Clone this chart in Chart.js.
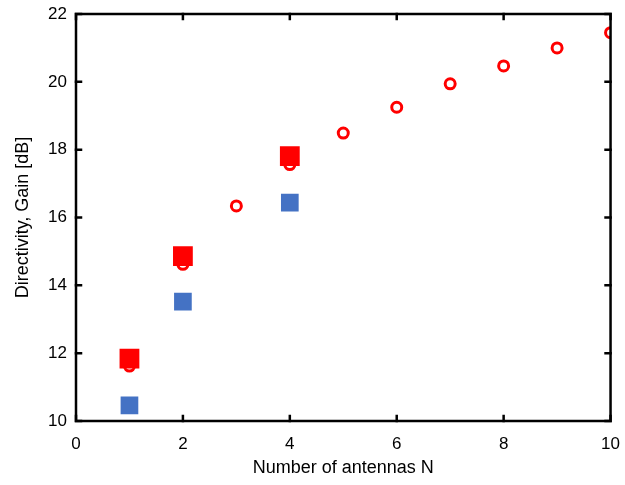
<!DOCTYPE html>
<html>
<head>
<meta charset="utf-8">
<script src="https://cdn.jsdelivr.net/npm/chart.js@4"></script>
<style>
  html, body { margin: 0; padding: 0; background: #fff; }
  #wrap { width: 625px; height: 485px; }
</style>
</head>
<body>
<div id="wrap"><canvas id="gainChart" width="625" height="485"></canvas></div>
<script>
// Data
const antennasN = [1, 2, 3, 4, 5, 6, 7, 8, 9, 10];
const directivityCircles = [11.62, 14.62, 16.34, 17.56, 18.49, 19.25, 19.94, 20.47, 21.0, 21.45];
const squaresN = [1, 2, 4];
const redSquares = [11.84, 14.86, 17.81];
const blueSquares = [10.46, 13.52, 16.44];
const xTicks = [0, 2, 4, 6, 8, 10];
const yTicks = [10, 12, 14, 16, 18, 20, 22];

const toPoints = (xs, ys) => xs.map((x, i) => ({ x, y: ys[i] }));

// frame around the plot area plus inward tick marks on all four sides
const framePlugin = {
  id: "frame",
  afterDatasetsDraw(chart) {
    const { ctx, chartArea: a, scales: { x, y } } = chart;
    const len = 5;
    ctx.save();
    ctx.strokeStyle = "#000";
    ctx.lineWidth = 2.5;
    ctx.lineCap = "square";
    ctx.strokeRect(a.left, a.top, a.right - a.left, a.bottom - a.top);
    ctx.beginPath();
    xTicks.forEach(v => {
      const px = x.getPixelForValue(v);
      ctx.moveTo(px, a.bottom); ctx.lineTo(px, a.bottom - len);
      ctx.moveTo(px, a.top); ctx.lineTo(px, a.top + len);
    });
    yTicks.forEach(v => {
      const py = y.getPixelForValue(v);
      ctx.moveTo(a.left, py); ctx.lineTo(a.left + len, py);
      ctx.moveTo(a.right, py); ctx.lineTo(a.right - len, py);
    });
    ctx.stroke();
    ctx.restore();
  }
};

const font = { family: "Arial, 'Liberation Sans', sans-serif", size: 17 };

new Chart(document.getElementById("gainChart"), {
  type: "scatter",
  data: {
    datasets: [
      {
        label: "Gain (red)",
        data: toPoints(squaresN, redSquares),
        pointStyle: "rect",
        pointRadius: 14,
        pointHoverRadius: 14,
        borderWidth: 0,
        backgroundColor: "#ff0000",
        borderColor: "#ff0000",
        order: 1
      },
      {
        label: "Gain (blue)",
        data: toPoints(squaresN, blueSquares),
        pointStyle: "rect",
        pointRadius: 12.5,
        pointHoverRadius: 12.5,
        borderWidth: 0,
        backgroundColor: "#4472c4",
        borderColor: "#4472c4",
        order: 2
      },
      {
        label: "Directivity",
        data: toPoints(antennasN, directivityCircles),
        pointStyle: "circle",
        pointRadius: 5,
        pointHoverRadius: 5,
        borderWidth: 3,
        backgroundColor: "#ffffff",
        borderColor: "#ff0000",
        order: 3
      }
    ]
  },
  options: {
    responsive: false,
    animation: false,
    layout: { padding: { left: 0, right: 13, top: 10, bottom: 0 } },
    plugins: { legend: { display: false }, tooltip: { enabled: false } },
    scales: {
      x: {
        type: "linear",
        min: 0, max: 10,
        afterBuildTicks: s => { s.ticks = xTicks.map(v => ({ value: v })); },
        afterFit: s => { s.height = 64; },
        grid: { display: false },
        border: { display: false },
        ticks: { color: "#000", font, padding: 5, maxRotation: 0 },
        title: { display: true, text: "Number of antennas N", color: "#000", font: { ...font, size: 18 }, padding: { top: 4, bottom: 6 } }
      },
      y: {
        type: "linear",
        min: 10, max: 22,
        afterBuildTicks: s => { s.ticks = yTicks.map(v => ({ value: v })); },
        afterFit: s => { s.width = 76; },
        grid: { display: false },
        border: { display: false },
        ticks: { color: "#000", font, padding: 1 },
        title: { display: true, text: "Directivity, Gain [dB]", color: "#000", font: { ...font, size: 18 }, padding: { top: 12, bottom: 4 } }
      }
    }
  },
  plugins: [framePlugin]
});
</script>
</body>
</html>
